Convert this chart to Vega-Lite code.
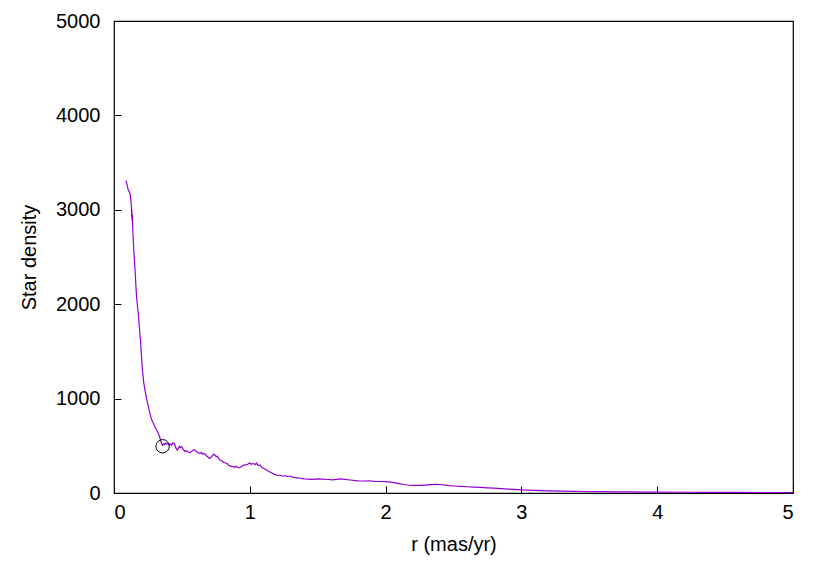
{
  "$schema": "https://vega.github.io/schema/vega-lite/v6.json",
  "width": 679,
  "height": 472,
  "autosize": {"type": "none"},
  "padding": {"left": 114, "top": 21, "right": 37, "bottom": 88},
  "background": "white",
  "config": {
    "font": "Liberation Sans",
    "view": {"stroke": "#000000", "strokeWidth": 1.2},
    "axis": {
      "domain": false,
      "grid": false,
      "tickColor": "#000000",
      "tickWidth": 1,
      "tickSize": -7,
      "labelFont": "Liberation Sans",
      "labelFontSize": 20,
      "labelColor": "#000000",
      "titleFont": "Liberation Sans",
      "titleFontSize": 20,
      "titleFontWeight": "normal",
      "titleColor": "#000000"
    }
  },
  "datasets": {
    "profile": [
      {"r": 0.088, "density": 3310}, {"r": 0.095, "density": 3270}, {"r": 0.100, "density": 3240},
      {"r": 0.105, "density": 3210}, {"r": 0.112, "density": 3190}, {"r": 0.118, "density": 3170},
      {"r": 0.124, "density": 3100}, {"r": 0.128, "density": 3040}, {"r": 0.130, "density": 2920},
      {"r": 0.131, "density": 3010}, {"r": 0.133, "density": 2880}, {"r": 0.135, "density": 2950},
      {"r": 0.138, "density": 2800}, {"r": 0.142, "density": 2680}, {"r": 0.148, "density": 2520},
      {"r": 0.155, "density": 2360}, {"r": 0.161, "density": 2200}, {"r": 0.167, "density": 2060},
      {"r": 0.173, "density": 1980}, {"r": 0.179, "density": 1900}, {"r": 0.185, "density": 1780},
      {"r": 0.190, "density": 1700}, {"r": 0.196, "density": 1600}, {"r": 0.203, "density": 1430},
      {"r": 0.211, "density": 1280}, {"r": 0.219, "density": 1170}, {"r": 0.228, "density": 1090},
      {"r": 0.240, "density": 1000}, {"r": 0.253, "density": 914}, {"r": 0.265, "density": 840},
      {"r": 0.277, "density": 775}, {"r": 0.290, "density": 740}, {"r": 0.302, "density": 700},
      {"r": 0.315, "density": 665}, {"r": 0.327, "density": 630}, {"r": 0.337, "density": 590},
      {"r": 0.346, "density": 545}, {"r": 0.352, "density": 520}, {"r": 0.358, "density": 505},
      {"r": 0.365, "density": 520}, {"r": 0.372, "density": 512}, {"r": 0.380, "density": 530},
      {"r": 0.388, "density": 519}, {"r": 0.396, "density": 525}, {"r": 0.405, "density": 510},
      {"r": 0.414, "density": 520}, {"r": 0.424, "density": 505}, {"r": 0.433, "density": 530},
      {"r": 0.442, "density": 526}, {"r": 0.450, "density": 500}, {"r": 0.458, "density": 470},
      {"r": 0.466, "density": 455}, {"r": 0.474, "density": 475}, {"r": 0.482, "density": 495},
      {"r": 0.490, "density": 480}, {"r": 0.498, "density": 490}, {"r": 0.506, "density": 470},
      {"r": 0.515, "density": 455}, {"r": 0.523, "density": 438}, {"r": 0.532, "density": 450},
      {"r": 0.541, "density": 440}, {"r": 0.550, "density": 432}, {"r": 0.560, "density": 427},
      {"r": 0.568, "density": 440}, {"r": 0.577, "density": 445}, {"r": 0.586, "density": 460},
      {"r": 0.596, "density": 455}, {"r": 0.605, "density": 440}, {"r": 0.614, "density": 430},
      {"r": 0.623, "density": 425}, {"r": 0.633, "density": 420}, {"r": 0.642, "density": 430},
      {"r": 0.651, "density": 410}, {"r": 0.660, "density": 420}, {"r": 0.670, "density": 413},
      {"r": 0.680, "density": 395}, {"r": 0.690, "density": 385}, {"r": 0.698, "density": 372},
      {"r": 0.707, "density": 367}, {"r": 0.716, "density": 380}, {"r": 0.725, "density": 395},
      {"r": 0.735, "density": 410}, {"r": 0.744, "density": 402}, {"r": 0.753, "density": 385},
      {"r": 0.762, "density": 390}, {"r": 0.771, "density": 365}, {"r": 0.780, "density": 350},
      {"r": 0.790, "density": 345}, {"r": 0.800, "density": 330}, {"r": 0.810, "density": 325},
      {"r": 0.820, "density": 318}, {"r": 0.830, "density": 314}, {"r": 0.840, "density": 300},
      {"r": 0.850, "density": 290}, {"r": 0.860, "density": 285}, {"r": 0.870, "density": 280},
      {"r": 0.878, "density": 279}, {"r": 0.890, "density": 272}, {"r": 0.900, "density": 285},
      {"r": 0.910, "density": 270}, {"r": 0.920, "density": 268}, {"r": 0.928, "density": 272},
      {"r": 0.940, "density": 280}, {"r": 0.950, "density": 290}, {"r": 0.960, "density": 298},
      {"r": 0.977, "density": 297}, {"r": 0.990, "density": 310}, {"r": 1.000, "density": 320},
      {"r": 1.010, "density": 305}, {"r": 1.026, "density": 314}, {"r": 1.040, "density": 300},
      {"r": 1.050, "density": 318}, {"r": 1.060, "density": 290}, {"r": 1.075, "density": 297},
      {"r": 1.090, "density": 270}, {"r": 1.100, "density": 262}, {"r": 1.110, "density": 255},
      {"r": 1.124, "density": 244}, {"r": 1.140, "density": 228}, {"r": 1.160, "density": 215},
      {"r": 1.180, "density": 200}, {"r": 1.198, "density": 190}, {"r": 1.220, "density": 188},
      {"r": 1.240, "density": 180}, {"r": 1.260, "density": 182}, {"r": 1.280, "density": 175},
      {"r": 1.296, "density": 180}, {"r": 1.320, "density": 165}, {"r": 1.350, "density": 160},
      {"r": 1.370, "density": 156}, {"r": 1.400, "density": 150}, {"r": 1.430, "density": 148},
      {"r": 1.460, "density": 145}, {"r": 1.500, "density": 150}, {"r": 1.540, "density": 147},
      {"r": 1.580, "density": 143}, {"r": 1.610, "density": 140}, {"r": 1.640, "density": 145},
      {"r": 1.670, "density": 150}, {"r": 1.700, "density": 145}, {"r": 1.740, "density": 138},
      {"r": 1.780, "density": 132}, {"r": 1.810, "density": 127}, {"r": 1.850, "density": 127},
      {"r": 1.880, "density": 130}, {"r": 1.920, "density": 124}, {"r": 1.960, "density": 122},
      {"r": 2.000, "density": 120}, {"r": 2.040, "density": 115}, {"r": 2.070, "density": 108},
      {"r": 2.100, "density": 100}, {"r": 2.130, "density": 90}, {"r": 2.170, "density": 82},
      {"r": 2.210, "density": 80}, {"r": 2.250, "density": 80}, {"r": 2.290, "density": 84},
      {"r": 2.330, "density": 88}, {"r": 2.370, "density": 92}, {"r": 2.400, "density": 90},
      {"r": 2.440, "density": 84}, {"r": 2.470, "density": 78}, {"r": 2.510, "density": 74},
      {"r": 2.550, "density": 70}, {"r": 2.600, "density": 66}, {"r": 2.650, "density": 63},
      {"r": 2.700, "density": 60}, {"r": 2.750, "density": 55}, {"r": 2.800, "density": 51},
      {"r": 2.850, "density": 47}, {"r": 2.900, "density": 42}, {"r": 2.950, "density": 38},
      {"r": 3.000, "density": 33}, {"r": 3.100, "density": 28}, {"r": 3.200, "density": 23},
      {"r": 3.300, "density": 19}, {"r": 3.400, "density": 17}, {"r": 3.500, "density": 15},
      {"r": 3.600, "density": 14}, {"r": 3.700, "density": 12}, {"r": 3.800, "density": 11},
      {"r": 3.900, "density": 10}, {"r": 4.000, "density": 9}, {"r": 4.200, "density": 8},
      {"r": 4.400, "density": 7}, {"r": 4.600, "density": 6}, {"r": 4.800, "density": 4},
      {"r": 5.000, "density": 3}
    ],
    "marker": [
      {"r": 0.358, "density": 495}
    ]
  },
  "layer": [
    {
      "data": {"name": "profile"},
      "mark": {"type": "line", "color": "#9400D3", "strokeWidth": 1.2, "clip": true},
      "encoding": {
        "x": {
          "field": "r", "type": "quantitative",
          "scale": {"domain": [0, 5], "nice": false, "zero": true},
          "axis": {"title": "r (mas/yr)", "values": [0, 1, 2, 3, 4, 5], "format": "d", "labelPadding": 16, "titlePadding": 12}
        },
        "y": {
          "field": "density", "type": "quantitative",
          "scale": {"domain": [0, 5000], "nice": false},
          "axis": {"title": "Star density", "values": [0, 1000, 2000, 3000, 4000, 5000], "format": "d", "labelPadding": 21, "titlePadding": 16}
        }
      }
    },
    {
      "data": {"name": "marker"},
      "mark": {"type": "point", "shape": "circle", "size": 180, "filled": false, "stroke": "#000000", "strokeWidth": 1, "opacity": 1},
      "encoding": {
        "x": {"field": "r", "type": "quantitative"},
        "y": {"field": "density", "type": "quantitative"}
      }
    }
  ]
}
